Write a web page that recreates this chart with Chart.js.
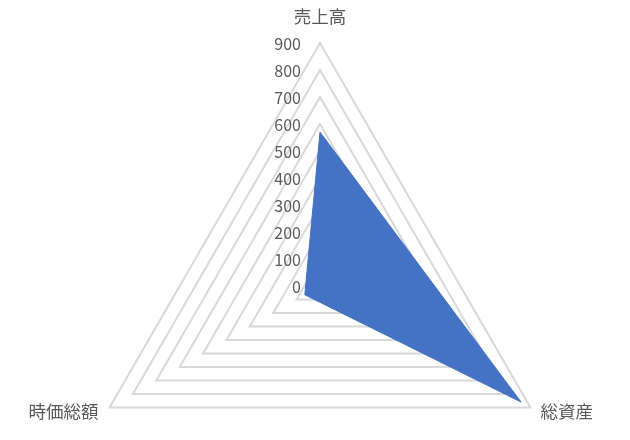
<!DOCTYPE html>
<html><head><meta charset="utf-8">
<script src="https://cdn.jsdelivr.net/npm/chart.js@4"></script>
<style>html,body{margin:0;padding:0;background:#fff}#wrap{width:630px;height:440px}</style>
</head><body><div id="wrap"><canvas id="c" width="630" height="440"></canvas></div>
<script>
const categories = ['売上高', '総資産', '時価総額'];
const seriesValues = [570, 860, 65];
const tickValues = [0, 100, 200, 300, 400, 500, 600, 700, 800, 900];
const tickLabels = tickValues.map(v => String(v));

const FONT = '"Noto Sans CJK JP", "Noto Sans", sans-serif';
const TEXT = '#595959';

const labelPlugin = {
  id: 'excelLabels',
  afterDraw(chart) {
    const s = chart.scales.r;
    const ctx = chart.ctx;
    ctx.save();
    ctx.fillStyle = TEXT;
    ctx.font = '16px ' + FONT;
    ctx.textAlign = 'right';
    ctx.textBaseline = 'middle';
    tickValues.forEach((v, i) => {
      const d = s.getDistanceFromCenterForValue(v);
      ctx.fillText(tickLabels[i], s.xCenter - 19, s.yCenter - d + 1);
    });
    ctx.font = '17.5px ' + FONT;
    categories.forEach((c, i) => {
      const p = s.getPointPosition(i, s.drawingArea);
      if (i === 0) {
        ctx.textAlign = 'center';
        ctx.fillText(c, p.x, p.y - 27);
      } else if (p.x > s.xCenter) {
        ctx.textAlign = 'left';
        ctx.fillText(c, p.x + 10, p.y + 4);
      } else {
        ctx.textAlign = 'right';
        ctx.fillText(c, p.x - 11, p.y + 4);
      }
    });
    ctx.restore();
  }
};

new Chart(document.getElementById('c'), {
  type: 'radar',
  data: {
    labels: categories,
    datasets: [{
      data: seriesValues,
      backgroundColor: '#4472C4',
      borderColor: '#4472C4',
      borderWidth: 1,
      pointRadius: 0,
      fill: true
    }]
  },
  options: {
    responsive: false,
    animation: false,
    devicePixelRatio: 1,
    plugins: { legend: { display: false }, tooltip: { enabled: false } },
    scales: {
      r: {
        min: 0, max: 900,
        ticks: { display: false, stepSize: 100 },
        pointLabels: { display: false },
        angleLines: { display: false },
        grid: { color: '#d9d9d9', lineWidth: 2 },
        afterFit(scale) {
          scale.xCenter = 320;
          scale.yCenter = 286;
          scale.drawingArea = 243;
        }
      }
    }
  },
  plugins: [labelPlugin]
});
</script>
</body></html>
